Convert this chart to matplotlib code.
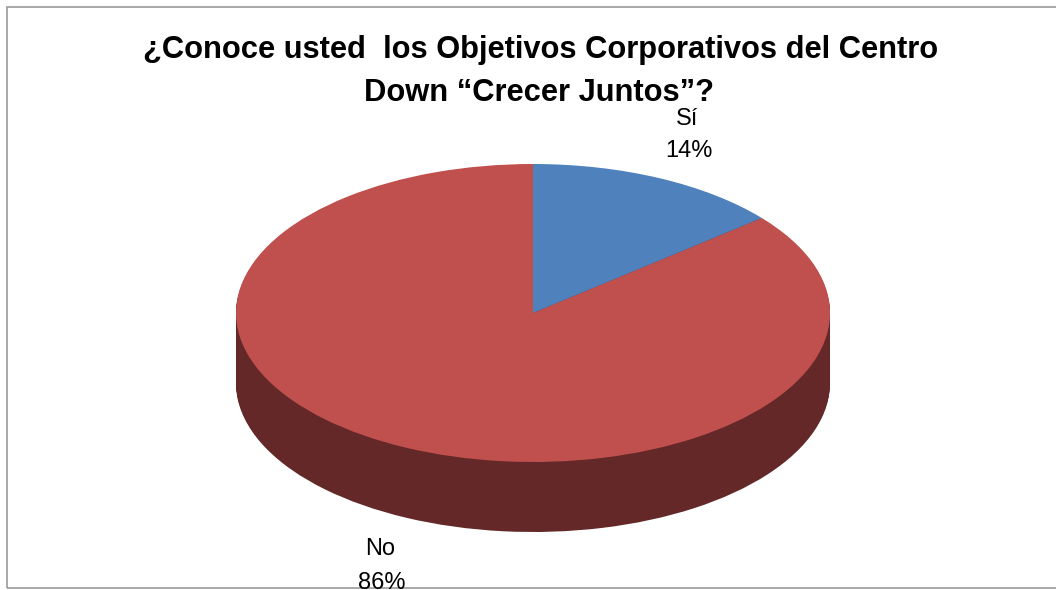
import matplotlib
matplotlib.use('Agg')
import matplotlib.pyplot as plt
from matplotlib.patches import Rectangle

plt.rcParams['font.family'] = ['Liberation Sans', 'DejaVu Sans']

categories = ['Sí', 'No']
values = [14, 86]
top_colors = ['#4F81BD', '#C0504D']
side_colors = ['#2F4D71', '#632827']
title_lines = ['¿Conoce usted  los Objetivos Corporativos del Centro', 'Down “Crecer Juntos”?']

W, H = 1056, 590
# pie ellipse in pixels
cx, cy = 533, 313
rx, ry = 297, 149
depth = 70


def px(x, y):
    ''' pixel position in the reference -> data coords of the squashed axes
    '''
    return (x - cx) / rx, (cy - y) / ry


fig = plt.figure(figsize=(W / 100, H / 100), dpi=100)
ax = fig.add_axes([0, 0, 1, 1])

# Side of the pie: dark copies stacked downwards
for d in range(depth, 0, -1):
    ax.pie(values, colors=side_colors, startangle=90, counterclock=False,
           center=(0, -d / ry), radius=1, frame=True)

# Top of the pie
ax.pie(values, colors=top_colors, startangle=90, counterclock=False,
       center=(0, 0), radius=1, frame=True)

ax.set_aspect('auto')
ax.set_xlim(-cx / rx, (W - cx) / rx)
ax.set_ylim((cy - H) / ry, cy / ry)
ax.axis('off')

# Chart border, open on the right like the reference
x0, y0 = px(7, 7)
x1, y1 = px(W + 10, 588)
ax.add_patch(Rectangle((x0, y1), x1 - x0, y0 - y1, fill=False, edgecolor='#9A9A9A',
                       linewidth=1.2, clip_on=True))

# Title
x, y = px(541, 50)
ax.text(x, y, title_lines[0], fontsize=22.2, fontweight='bold', ha='center', va='center', color='black')
x, y = px(539.5, 93)
ax.text(x, y, title_lines[1], fontsize=22.2, fontweight='bold', ha='center', va='center', color='black')

# Data labels
x, y = px(687, 119)
ax.text(x, y, categories[0], fontsize=17, ha='center', va='center')
x, y = px(689, 151)
ax.text(x, y, f'{values[0]}%', fontsize=17, ha='center', va='center')
x, y = px(380, 549)
ax.text(x, y, categories[1], fontsize=17, ha='center', va='center')
x, y = px(381.5, 583)
ax.text(x, y, f'{values[1]}%', fontsize=17, ha='center', va='center')

fig.savefig('out.png', dpi=100)
